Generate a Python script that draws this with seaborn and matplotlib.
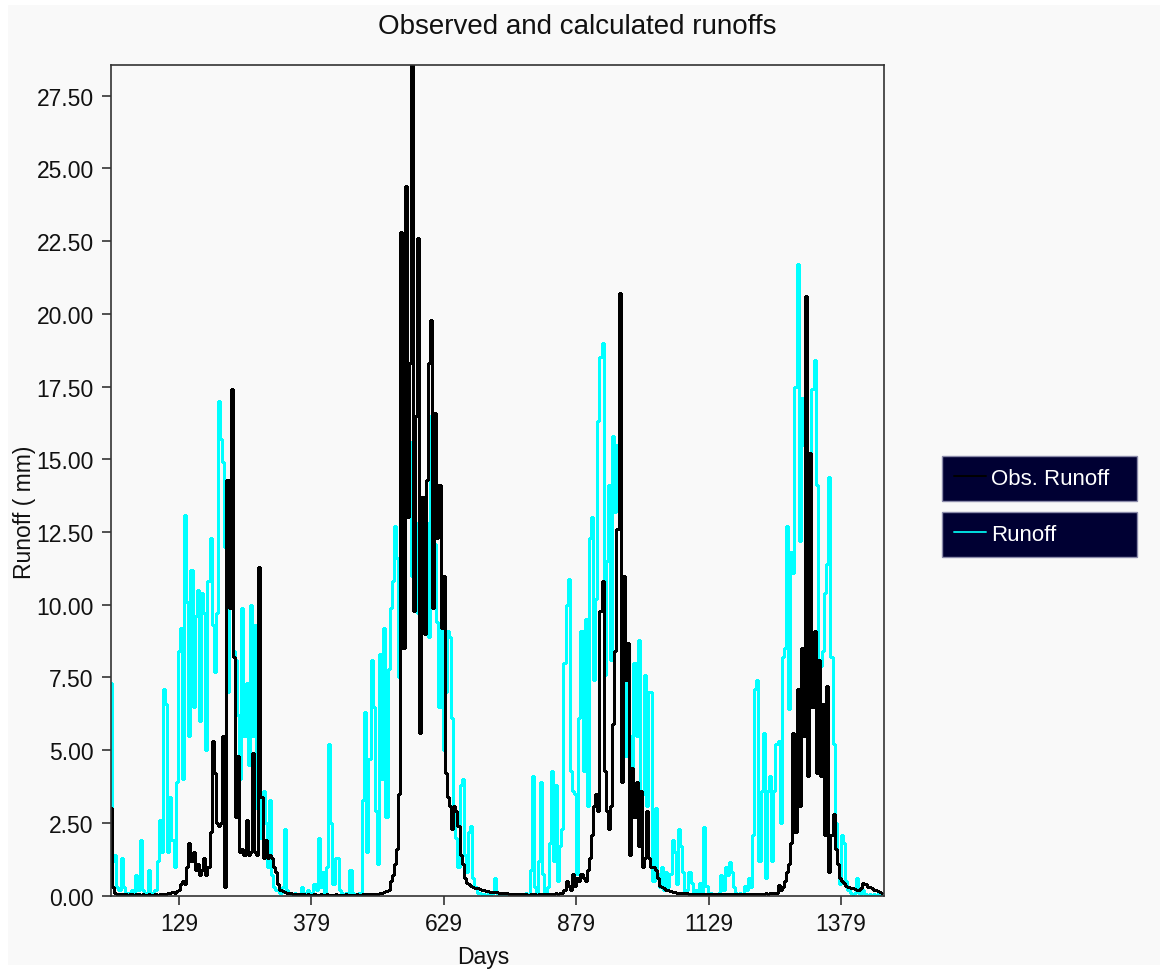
import numpy as np
import pandas as pd
import matplotlib
matplotlib.use("Agg")
import matplotlib.pyplot as plt
import seaborn as sns
from matplotlib.lines import Line2D
from matplotlib.patches import Rectangle
from matplotlib.ticker import FormatStrFormatter, FixedLocator

sns.set_theme(style="ticks")
plt.rcParams["font.family"] = ["Liberation Sans", "DejaVu Sans"]

# ---------------- data (one value every 4 days) ----------------
first_day = 1
day_step = 4

calc_runoff = [
    7.3, 1.2, 1.4, 0.3, 0.2, 1.3, 0.3, 0.1, 0.1, 0.0,
    0.2, 0.1, 0.7, 0.2, 1.9, 0.2, 0.1, 0.1, 0.9, 0.1,
    0.0, 0.2, 1.2, 2.6, 1.5, 7.1, 6.6, 1.5, 3.4, 1.9,
    1.0, 3.9, 8.4, 9.2, 4.0, 13.1, 10.1, 5.5, 11.2, 6.5,
    9.6, 10.5, 6.0, 10.4, 9.7, 5.0, 10.8, 12.3, 9.3, 7.7,
    9.7, 17.0, 15.7, 14.9, 12.0, 7.0, 12.8, 13.9, 8.4, 8.1,
    6.2, 4.0, 9.9, 5.5, 7.3, 4.5, 10.0, 5.5, 9.3, 3.0,
    4.6, 2.0, 3.6, 2.5, 1.0, 3.3, 0.7, 0.3, 0.2, 0.2,
    0.1, 0.3, 2.3, 0.2, 0.1, 0.05, 0.0, 0.1, 0.0, 0.05,
    0.3, 0.1, 0.0, 0.2, 0.0, 0.1, 0.4, 0.2, 2.0, 0.3,
    0.8, 0.1, 1.0, 5.2, 2.5, 0.4, 1.3, 1.3, 0.2, 0.1,
    0.0, 0.1, 0.0, 0.9, 0.1, 0.0, 0.0, 0.1, 0.0, 3.3,
    6.3, 1.5, 4.7, 8.1, 6.5, 2.9, 1.1, 8.3, 4.0, 9.2,
    2.7, 7.8, 9.9, 10.8, 12.7, 11.6, 7.5, 10.7, 12.7, 15.0,
    13.0, 15.6, 11.0, 10.7, 12.8, 9.7, 13.7, 12.5, 10.3, 12.8,
    8.9, 16.5, 14.3, 12.1, 9.4, 6.5, 10.1, 5.0, 7.0, 9.1,
    8.9, 6.1, 2.9, 2.0, 1.0, 3.8, 4.0, 1.4, 0.8, 2.2,
    2.4, 0.6, 0.3, 0.1, 0.1, 0.05, 0.05, 0.0, 0.05, 0.0,
    0.1, 0.6, 0.1, 0.0, 0.05, 0.0, 0.0, 0.05, 0.0, 0.0,
    0.0, 0.05, 0.0, 0.0, 0.05, 0.0, 0.1, 0.0, 0.9, 4.1,
    0.3, 0.1, 1.2, 3.9, 0.75, 0.1, 0.3, 1.8, 4.3, 1.2,
    3.8, 0.5, 1.7, 2.3, 8.0, 10.0, 10.9, 4.3, 3.6, 3.5,
    0.75, 6.1, 9.1, 4.3, 9.5, 3.1, 12.3, 13.0, 7.4, 10.2,
    16.3, 18.5, 19.0, 7.6, 11.5, 14.1, 8.1, 15.8, 13.2, 15.5,
    19.7, 7.8, 10.8, 4.8, 7.6, 5.5, 2.7, 8.0, 5.5, 8.8,
    2.1, 3.5, 7.6, 3.1, 7.0, 7.0, 0.5, 3.0, 0.75, 0.3,
    1.0, 0.2, 0.8, 0.3, 0.75, 1.9, 1.5, 0.4, 2.3, 1.7,
    0.8, 0.1, 0.2, 0.8, 0.45, 0.1, 0.2, 0.05, 0.45, 0.1,
    2.35, 0.35, 0.05, 0.1, 0.0, 0.05, 0.0, 0.1, 0.7, 0.2,
    1.0, 0.7, 1.15, 0.8, 0.3, 0.1, 0.05, 0.1, 0.05, 0.35,
    0.2, 0.6, 0.3, 2.1, 7.1, 7.4, 1.2, 3.6, 5.6, 0.6,
    3.6, 4.1, 1.2, 3.6, 5.2, 5.3, 2.5, 8.2, 8.5, 12.7,
    6.4, 11.8, 11.1, 17.5, 21.7, 12.2, 17.1, 15.5, 8.8, 13.5,
    7.1, 17.4, 18.4, 14.1, 7.6, 7.9, 8.4, 10.4, 11.4, 14.4,
    8.2, 5.2, 2.5, 1.1, 0.4, 2.1, 1.8, 0.5, 0.2, 0.1,
    0.07, 0.1, 0.6, 0.1, 0.05, 0.2, 0.05, 0.0, 0.05, 0.0,
    0.05, 0.0, 0.05, 0.0, 0.0,
]

obs_runoff = [
    3.0, 0.3, 0.1, 0.06, 0.05, 0.05, 0.06, 0.05, 0.04, 0.05,
    0.05, 0.04, 0.05, 0.05, 0.04, 0.05, 0.04, 0.04, 0.05, 0.04,
    0.04, 0.05, 0.04, 0.05, 0.06, 0.05, 0.06, 0.08, 0.1, 0.12,
    0.1, 0.15, 0.2, 0.4, 0.5, 0.4, 1.0, 1.8, 1.2, 1.5,
    0.9, 1.1, 0.7, 0.9, 1.3, 0.7, 1.0, 2.2, 5.3, 4.2,
    2.5, 2.4, 2.5, 5.5, 0.3, 14.3, 9.9, 17.4, 8.2, 2.7,
    4.8, 1.5, 1.6, 1.4, 2.6, 1.4, 1.5, 4.9, 1.5, 1.4,
    11.3, 3.4, 1.3, 1.9, 1.3, 1.4, 1.3, 1.0, 0.8, 0.4,
    0.2, 0.15, 0.12, 0.1, 0.1, 0.08, 0.07, 0.06, 0.05, 0.05,
    0.05, 0.05, 0.04, 0.05, 0.04, 0.04, 0.05, 0.04, 0.04, 0.05,
    0.04, 0.04, 0.05, 0.04, 0.04, 0.04, 0.05, 0.04, 0.04, 0.04,
    0.04, 0.05, 0.04, 0.04, 0.04, 0.04, 0.05, 0.04, 0.04, 0.05,
    0.05, 0.05, 0.05, 0.06, 0.06, 0.05, 0.05, 0.08, 0.1, 0.12,
    0.15, 0.2, 0.5, 0.7, 1.1, 1.6, 3.5, 22.8, 8.5, 24.4,
    13.0, 18.3, 28.55, 9.8, 16.5, 22.6, 5.6, 13.7, 9.0, 14.3,
    18.3, 19.8, 9.9, 16.6, 12.3, 14.1, 9.2, 11.0, 4.2, 3.4,
    3.1, 2.3, 3.1, 2.9, 2.4, 1.4, 1.1, 0.6, 0.45, 0.4,
    0.35, 0.3, 0.28, 0.25, 0.22, 0.2, 0.18, 0.16, 0.15, 0.14,
    0.13, 0.12, 0.11, 0.1, 0.1, 0.09, 0.08, 0.08, 0.07, 0.06,
    0.06, 0.06, 0.05, 0.05, 0.05, 0.05, 0.05, 0.04, 0.05, 0.05,
    0.05, 0.04, 0.05, 0.05, 0.05, 0.06, 0.05, 0.06, 0.07, 0.06,
    0.08, 0.07, 0.09, 0.1, 0.2, 0.5, 0.35, 0.2, 0.75, 0.35,
    0.6, 0.5, 0.75, 0.6, 0.5, 0.9, 1.3, 2.1, 3.1, 3.5,
    2.9, 9.8, 10.8, 4.3, 2.9, 2.3, 3.1, 5.9, 8.4, 12.6,
    20.7, 3.9, 11.0, 7.4, 8.7, 1.4, 4.4, 2.7, 3.9, 1.7,
    3.6, 1.0, 1.3, 2.9, 1.3, 1.0, 1.0, 0.9, 0.6, 0.35,
    0.3, 0.25, 0.2, 0.18, 0.15, 0.13, 0.12, 0.1, 0.1, 0.09,
    0.09, 0.08, 0.08, 0.07, 0.07, 0.07, 0.06, 0.06, 0.06, 0.06,
    0.05, 0.05, 0.05, 0.05, 0.05, 0.05, 0.05, 0.05, 0.05, 0.05,
    0.05, 0.05, 0.05, 0.05, 0.05, 0.05, 0.05, 0.05, 0.05, 0.06,
    0.06, 0.06, 0.06, 0.07, 0.06, 0.07, 0.06, 0.07, 0.07, 0.08,
    0.07, 0.08, 0.08, 0.08, 0.1, 0.36, 0.2, 0.3, 0.5, 0.8,
    1.1, 1.8, 5.6, 2.2, 7.1, 3.1, 8.5, 5.5, 20.6, 4.1,
    15.2, 6.5, 9.1, 4.2, 8.1, 4.1, 6.6, 2.1, 7.2, 0.8,
    2.1, 2.8, 1.6, 1.1, 0.6, 0.5, 0.45, 0.35, 0.3, 0.28,
    0.25, 0.22, 0.2, 0.2, 0.25, 0.45, 0.4, 0.3, 0.3, 0.25,
    0.2, 0.18, 0.15, 0.12, 0.1,
]

days = first_day + day_step * np.arange(len(obs_runoff))

x_ticks = [129, 379, 629, 879, 1129, 1379]
y_ticks = [0.0, 2.5, 5.0, 7.5, 10.0, 12.5, 15.0, 17.5, 20.0, 22.5, 25.0, 27.5]
x_range = (1, 1460)
y_range = (0, 28.55)

title = "Observed and calculated runoffs"
x_label = "Days"
y_label = "Runoff ( mm)"
series_names = ["Obs. Runoff", "Runoff"]

# ---------------- figure ----------------
W, H = 1160, 970
fig = plt.figure(figsize=(W / 100, H / 100), dpi=100, facecolor="white")
fig.patches.append(Rectangle((8 / W, 4 / H), 1 - 8 / W, 1 - 10 / H,
                             transform=fig.transFigure, facecolor="#f9f9f9",
                             edgecolor="none", zorder=-10))

ax_l, ax_r, ax_t, ax_b = 111, 884, 66, 896.7
ax = fig.add_axes([ax_l / W, 1 - ax_b / H, (ax_r - ax_l) / W, (ax_b - ax_t) / H])
ax.set_facecolor("#f9f9f9")

df = pd.DataFrame({"Days": days, series_names[0]: obs_runoff, series_names[1]: calc_runoff})

sns.lineplot(data=df, x="Days", y=series_names[1], color="#00ffff", lw=1.0,
             estimator=None, legend=False, drawstyle="steps-mid",
             antialiased=False, ax=ax)
sns.lineplot(data=df, x="Days", y=series_names[0], color="#000000", lw=1.0,
             estimator=None, legend=False, drawstyle="steps-mid",
             antialiased=False, ax=ax)

ax.set_xlim(*x_range)
ax.set_ylim(*y_range)
ax.xaxis.set_major_locator(FixedLocator(x_ticks))
ax.yaxis.set_major_locator(FixedLocator(y_ticks))
ax.yaxis.set_major_formatter(FormatStrFormatter("%.2f"))
ax.set_xlabel("")
ax.set_ylabel("")
ax.tick_params(axis="both", which="major", labelsize=16.5, length=6.5, width=1.2,
               color="#333333", labelcolor="#111111", direction="out")
ax.tick_params(axis="y", pad=6)
ax.tick_params(axis="x", pad=5)
for s in ax.spines.values():
    s.set_visible(True)
    s.set_color("#333333")
    s.set_linewidth(1.2)

fig.text(577 / W, 1 - 27 / H, title, ha="center", va="center", fontsize=20, color="#111111")
fig.text(483 / W, 1 - 958 / H, x_label, ha="center", va="center", fontsize=16.5, color="#111111")
fig.text(25 / W, 1 - 512 / H, y_label, ha="center", va="center", rotation=90,
         fontsize=16.5, color="#111111")

# two separate legend boxes
leg_colors = ["#000000", "#00e0e0"]
leg_centers = [479.5, 535.5]
for name, col, yc in zip(series_names, leg_colors, leg_centers):
    fig.legend(handles=[Line2D([], [], color=col, lw=1.4)], labels=[name],
               loc="center left", bbox_to_anchor=(942 / W, 1 - yc / H, 195 / W, 0),
               mode="expand", fontsize=16, labelcolor="white", frameon=True,
               fancybox=False, facecolor="#000033", edgecolor="#8c8cab",
               framealpha=1.0, borderpad=0.55, handlelength=1.45,
               handletextpad=0.2, borderaxespad=0.0)

fig.savefig("out.png", dpi=100, facecolor=fig.get_facecolor())
